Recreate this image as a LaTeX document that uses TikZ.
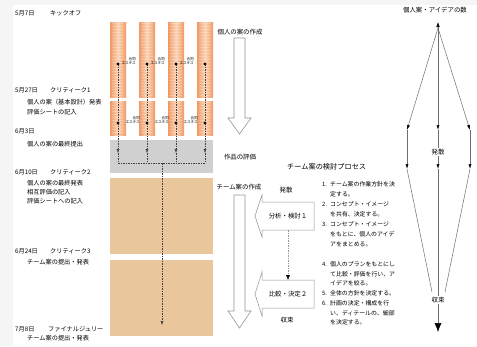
\documentclass[tikz,border=0pt]{standalone}
\usepackage{fontspec}
\setmainfont{Noto Sans CJK JP}
\usetikzlibrary{arrows.meta}
\definecolor{barE}{RGB}{240,152,100}
\definecolor{barM}{RGB}{251,212,182}
\definecolor{tanC}{RGB}{233,198,155}
\definecolor{bandC}{RGB}{208,208,208}
\definecolor{edgeC}{RGB}{150,150,150}
\definecolor{lineC}{RGB}{110,110,110}
\begin{document}
\begin{tikzpicture}[x=1pt,y=-1pt,
  txt/.style={font=\fontsize{6.2}{7}\selectfont, inner sep=0pt, anchor=west},
  mid/.style={font=\fontsize{6.4}{7}\selectfont, inner sep=0pt},
  lst/.style={font=\fontsize{5.9}{7}\selectfont, inner sep=0pt, anchor=west},
  tinylbl/.style={font=\fontsize{3.6}{4}\selectfont, inner sep=0pt, align=right, anchor=east},
  hollow/.style={draw=edgeC, fill=white, line width=0.6pt},
  boxa/.style={draw=edgeC, fill=white, line width=0.5pt},
  guide/.style={black!75, line width=0.4pt, dash pattern=on 1.5pt off 1pt},
  tipL/.style={-{Latex[length=4pt,width=3pt]}},
  dline/.style={lineC, line width=0.5pt},
]
\useasboundingbox (0,0) rectangle (477,346);
\fill[black!4] (0,0) rectangle (477,346);
\fill[white] (13,5) rectangle (477,346);

% ---- left column texts
\node[txt] (d1) at (15,13) {5月7日};
\node[txt] (e1) at (50,13) {キックオフ};
\node[txt] (d2) at (15,90) {5月27日};
\node[txt] (e2) at (50,90) {クリティーク1};
\node[txt] (s21) at (27,102) {個人の案（基本設計）発表};
\node[txt] (s22) at (27,112) {評価シートの記入};
\node[txt] (d3) at (15,131) {6月3日};
\node[txt] (s31) at (27,144) {個人の案の最終提出};
\node[txt] (d4) at (15,172) {6月10日};
\node[txt] (e4) at (50,172) {クリティーク2};
\node[txt] (s41) at (27,183) {個人の案の最終発表};
\node[txt] (s42) at (27,192) {相互評価の記入};
\node[txt] (s43) at (27,201) {評価シートへの記入};
\node[txt] (d5) at (15,251) {6月24日};
\node[txt] (e5) at (50,251) {クリティーク3};
\node[txt] (s51) at (27,262) {チーム案の提出・発表};
\node[txt] (d6) at (15,329) {7月8日};
\node[txt] (e6) at (48,329) {ファイナルジュリー};
\node[txt] (s61) at (27,338) {チーム案の提出・発表};

% ---- gray band and tan areas
\fill[bandC] (110,140) rectangle (213,173);
\fill[tanC] (110,178) rectangle (213,254);
\fill[tanC] (110,260) rectangle (213,336);

% ---- orange bars
\foreach \i/\x in {1/110,2/139,3/168,4/197}{
  \shade[left color=barE,right color=barE,middle color=barM] (\x,22) rectangle ++(16,75);
  \shade[left color=barE,right color=barE,middle color=barM] (\x,101) rectangle ++(16,34);
  \draw[white,opacity=.22,line width=12pt,dash pattern=on .5pt off 2.5pt] (\x+8,23) -- (\x+8,96);
  \draw[white,opacity=.22,line width=12pt,dash pattern=on .5pt off 2.5pt] (\x+8,102) -- (\x+8,134);
  \coordinate (da\i) at (\x+8,64);
  \coordinate (db\i) at (\x+8,123);
  \coordinate (ga\i) at (\x+8,153);
  \coordinate (gb\i) at (\x+8,163);
  \draw[guide] (da\i) -- (db\i);
  \draw[guide,tipL] (db\i) -- (ga\i);
  \draw[guide] (ga\i) -- (gb\i);
  \fill (da\i) circle (1.6);
  \fill (db\i) circle (1.6);
}
\foreach \i/\x in {1/110,2/139,3/168}{
  \node[tinylbl] (la\i) at (\x+26,61) {合同\\エスキス};
  \node[tinylbl] (lb\i) at (\x+30,120) {合同\\エスキス};
}
\draw[guide] (gb1) -- (gb4);
\coordinate (gc) at (162,163);
\coordinate (ge) at (162,325);
\draw[guide,tipL] (gc) -- (ge);

% ---- hollow arrows
\draw[hollow] (234,38) -- (245,38) -- (245,118) -- (251,118) -- (239.5,134) -- (228,118) -- (234,118) -- cycle;
\draw[hollow] (234,195) -- (245,195) -- (245,311) -- (251,311) -- (239.5,328) -- (228,311) -- (234,311) -- cycle;
\node[mid] (t1) at (240,32) {個人の案の作成};
\node[mid] (t2) at (240,157) {作品の評価};
\node[mid] (t3) at (239,187) {チーム案の作成};

% ---- team process
\node[font=\fontsize{7.2}{8}\selectfont, inner sep=0pt, anchor=west] (ttl) at (287,167) {チーム案の検討プロセス};
\node[mid] (h1) at (286,190) {発散};
\draw[boxa] (314,202) -- (262,202) -- (262,195) -- (255,216) -- (262,237) -- (262,230) -- (314,230) -- cycle;
\node[mid] (b1) at (288,216) {分析・検討１};
\draw[boxa] (314,280) -- (262,280) -- (262,272) -- (255,294) -- (262,316) -- (262,308) -- (314,308) -- cycle;
\node[mid] (b2) at (288,294) {比較・決定２};
\node[mid] (h2) at (287,320) {収束};
\coordinate (c1) at (288,230);
\coordinate (c2) at (288,280);
\draw[edgeC, line width=0.4pt, dash pattern=on 1.5pt off 1pt, -{Latex[length=5pt,width=4pt,black]}] (c1) -- (c2);

% ---- numbered list
\node[lst] (n1a) at (322,184) {\makebox[8pt][l]{1.}チーム案の作業方針を決};
\node[lst] (n1b) at (330,194) {定する。};
\node[lst] (n2a) at (322,204) {\makebox[8pt][l]{2.}コンセプト・イメージ};
\node[lst] (n2b) at (330,214) {を共有、決定する。};
\node[lst] (n3a) at (322,224) {\makebox[8pt][l]{3.}コンセプト・イメージ};
\node[lst] (n3b) at (330,234) {をもとに、個人のアイデ};
\node[lst] (n3c) at (330,244) {アをまとめる。};
\node[lst] (n4a) at (322,264) {\makebox[8pt][l]{4.}個人のプランをもとにし};
\node[lst] (n4b) at (330,274) {て比較・評価を行い、ア};
\node[lst] (n4c) at (330,283) {イデアを絞る。};
\node[lst] (n5a) at (322,293) {\makebox[8pt][l]{5.}全体の方針を決定する。};
\node[lst] (n6a) at (322,303) {\makebox[8pt][l]{6.}計画の決定・構成を行};
\node[lst] (n6b) at (330,313) {い、ディテールの、細部};
\node[lst] (n6c) at (330,322) {を決定する。};

% ---- right diamond
\node[mid] (tl) at (435,10) {個人案・アイデアの数};
\coordinate (ap) at (438,28);
\coordinate (apt) at (438,22);
\coordinate (l1) at (407,130);
\coordinate (m1) at (438,130);
\coordinate (r1) at (470,130);
\coordinate (l2) at (407,169);
\coordinate (m2) at (438,169);
\coordinate (r2) at (470,169);
\coordinate (lb) at (432,292);
\coordinate (rb) at (445,292);
\coordinate (bt) at (438,332);
\draw[dline,-{Latex[length=5pt,width=3pt,black]}] (ap) -- (l1);
\draw[dline,-{Latex[length=5pt,width=3pt,black]}] (ap) -- (r1);
\draw[dline,{Latex[length=5pt,width=3.5pt,black]}-{Latex[length=5pt,width=3pt,black]}] (apt) -- (m1);
\draw[dline,-{Latex[length=5pt,width=3pt,black]}] (l1) -- (l2);
\draw[dline,-{Latex[length=5pt,width=3pt,black]}] (r1) -- (r2);
\draw[dline,-{Latex[length=5pt,width=3pt,black]}] (m1) -- (m2);
\draw[dline] (l2) -- (lb);
\draw[dline] (r2) -- (rb);
\draw[dline,-{Latex[length=9pt,width=7pt,black]}] (m2) -- (bt);
\node[mid, fill=white, inner sep=1pt] (k1) at (438,152) {発散};
\node[mid, fill=white, inner sep=1pt] (k2) at (438,300) {収束};
\end{tikzpicture}
\end{document}
